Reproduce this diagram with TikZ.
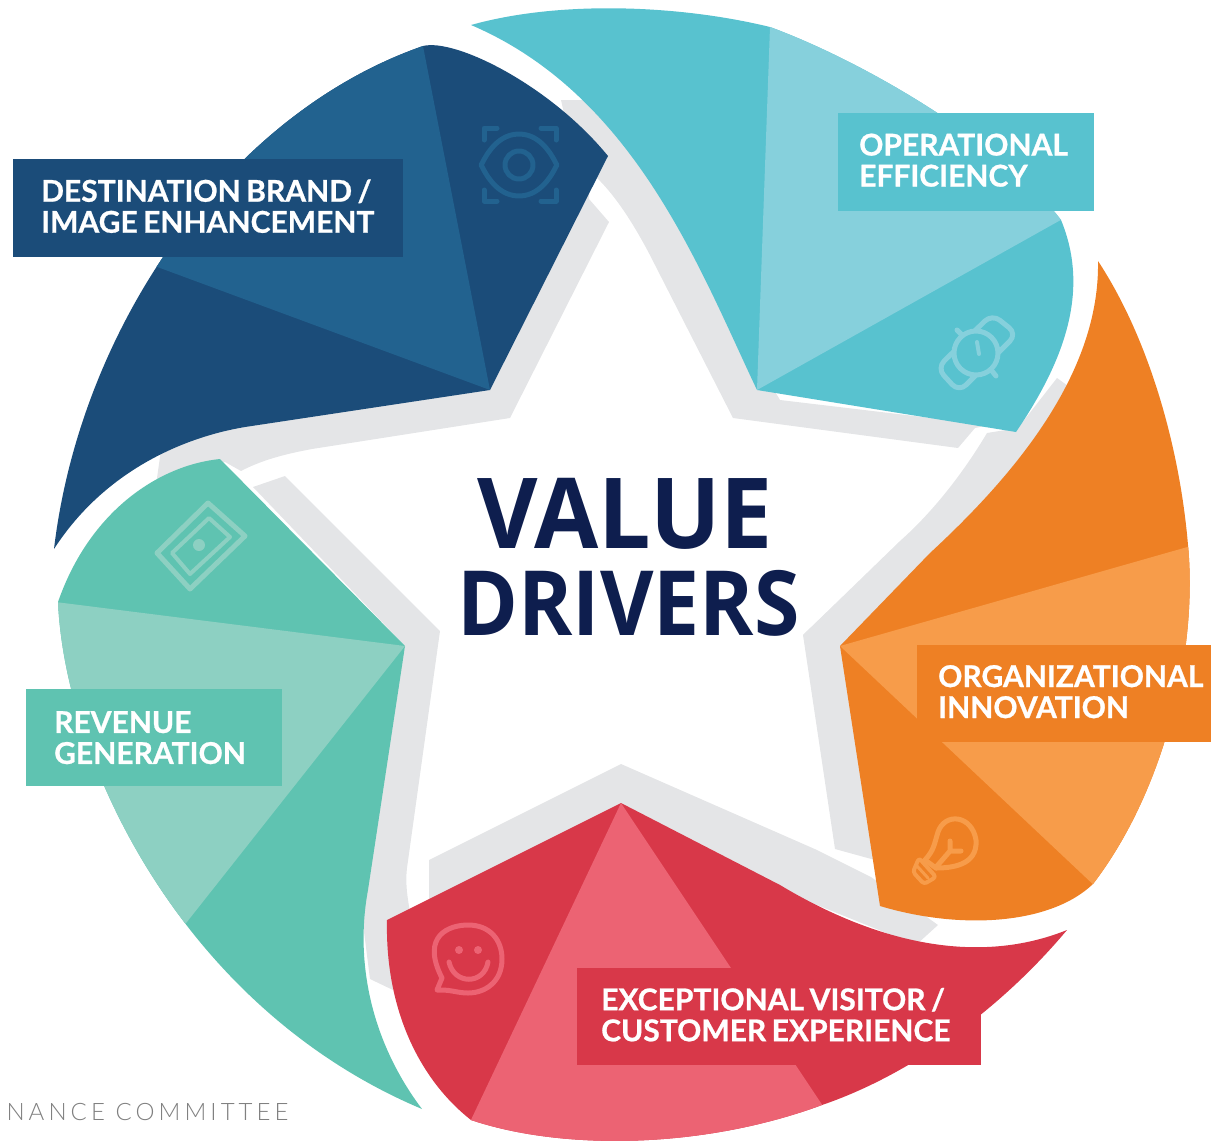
\documentclass[tikz,border=0pt]{standalone}
\usepackage{fontspec}
\setmainfont{Lato}
\newfontfamily\labelfont[FakeBold=0.8,WordSpace=0.75]{Lato Bold}
\newfontfamily\titlefont{Open Sans}
\newfontfamily\footfont[LetterSpace=17]{Lato Light}
\definecolor{bluedark}{HTML}{1B4C79}
\definecolor{bluelight}{HTML}{22628F}
\definecolor{tealdark}{HTML}{58C2CF}
\definecolor{teallight}{HTML}{86D0DC}
\definecolor{orangedark}{HTML}{EE8024}
\definecolor{orangelight}{HTML}{F79C4A}
\definecolor{reddark}{HTML}{D83849}
\definecolor{redlight}{HTML}{EC6373}
\definecolor{greendark}{HTML}{5FC3B1}
\definecolor{greenlight}{HTML}{8DD0C2}
\definecolor{ringgray}{HTML}{E4E5E7}
\definecolor{navy}{HTML}{0E1E4E}
\newcommand{\bluepath}{(54,549) .. controls (80,330) and (225,115) .. (423,46) .. controls (455,38) and (550,85) .. (608,156) -- (490,390) -- (245,427) .. controls (185,437) and (105,470) .. (54,549) -- cycle}
\newcommand{\tealpath}{(471,25) .. controls (560,0) and (680,5) .. (770,27) .. controls (860,60) and (1000,140) .. (1061,220) .. controls (1090,290) and (1065,360) .. (1016,432) -- (757,390) .. controls (700,270) and (635,95) .. (471,25) -- cycle}
\newcommand{\orangepath}{(1098,261) .. controls (1150,340) and (1180,450) .. (1188,545) .. controls (1198,650) and (1165,790) .. (1093,884) .. controls (1050,925) and (960,930) .. (880,906) -- (840,646) -- (930,553) .. controls (1020,470) and (1100,370) .. (1098,261) -- cycle}
\newcommand{\redpath}{(1067,930) .. controls (1000,1010) and (910,1075) .. (822,1105) .. controls (700,1150) and (560,1150) .. (471,1120) .. controls (420,1080) and (385,1010) .. (387,920) -- (621,803) -- (780,885) .. controls (880,945) and (980,965) .. (1067,930) -- cycle}
\newcommand{\greenpath}{(220,459) .. controls (160,465) and (90,510) .. (58,602) .. controls (65,760) and (182,1008) .. (422,1109) .. controls (370,1040) and (355,960) .. (368,890) -- (405,646) -- cycle}
\tikzset{
  ring/.style={fill=ringgray,draw=none},
  labelbox/.style={anchor=north west,inner sep=0pt},
  labeltext/.style={anchor=west,text=white,font=\labelfont\fontsize{30}{31}\selectfont,align=left,inner sep=0pt},
  icon/.style={line width=5pt,line cap=round,line join=round,fill=none}
}
\begin{document}
\begin{tikzpicture}[x=1pt,y=-1pt]
\useasboundingbox (0,0) rectangle (1211,1141);
% gray star ring pieces
\fill[ring] (561,100) -- (620,100) -- (720,300) -- (780,400) -- (990,425) -- (975,428) -- (958,448) -- (733,418) -- (655,265) .. controls (635,225) and (615,195) .. (596,177) -- (570,140) -- cycle;
\fill[ring] (590,160) -- (589,199) -- (609,222) -- (510,418) -- (312,449) .. controls (285,454) and (262,460) .. (241,471) -- (225,462) -- (156,485) -- (161,450) -- (245,420) -- (490,380) -- cycle;
\fill[ring] (253,487) -- (285,476) -- (440,631) -- (407,868) .. controls (405,885) and (408,900) .. (410,912) -- (390,950) -- (393,990) -- (370,979) -- (360,900) -- (405,646) -- cycle;
\fill[ring] (621,764) -- (429,860) -- (429,907) -- (621,810) -- (780,890) -- (916,945) -- (938,925) -- (871,877) -- (817,850) -- cycle;
\fill[ring] (840,600) -- (803,635) -- (835,849) -- (875,860) -- (880,800) -- cycle;
\fill[ring] (803,635) -- (900,541) .. controls (935,510) and (965,470) .. (987,433) -- (1018,428) -- (1057,378) -- (1075,391) -- (1040,450) -- (940,560) -- (860,640) -- cycle;
% segments
\fill[bluedark] \bluepath;
\begin{scope}\clip \bluepath;
\fill[bluelight] (490,390) -- (415,5) -- (60,5) -- (60,231) -- cycle;
\end{scope}
\fill[tealdark] \tealpath;
\begin{scope}\clip \tealpath;
\fill[teallight] (757,390) -- (770,27) -- (771,-10) -- (1100,-10) -- (1100,198) -- cycle;
\end{scope}
\fill[orangedark] \orangepath;
\begin{scope}\clip \orangepath;
\fill[orangelight] (840,646) -- (1240,532) -- (1240,950) -- (1150,938) -- cycle;
\end{scope}
\fill[reddark] \redpath;
\begin{scope}\clip \redpath;
\fill[redlight] (621,803) -- (452,1160) -- (859,1160) -- cycle;
\end{scope}
\fill[greendark] \greenpath;
\begin{scope}\clip \greenpath;
\fill[greenlight] (405,646) -- (0,595) -- (0,1032) -- (100,1032) -- cycle;
\end{scope}
% eye icon
\begin{scope}[icon,draw=bluelight]
\draw (519,134) .. controls (545,134) and (556,165) .. (557,165) .. controls (556,165) and (545,196) .. (519,196) .. controls (493,196) and (482,165) .. (481,165) .. controls (482,165) and (493,134) .. (519,134) -- cycle;
\draw (519,165) circle (14);
\draw (484,140) -- (484,128) -- (497,128);
\draw (541,128) -- (556,128) -- (556,140);
\draw (484,190) -- (484,201) -- (497,201);
\draw (541,201) -- (556,201) -- (556,190);
\end{scope}
% watch icon
\begin{scope}[icon,draw=teallight]
\draw[rounded corners=10pt] (937,368) -- (992,314) -- (1017,334) -- (959,392) -- cycle;
\fill[tealdark] (976,353) circle (22);
\draw (976,353) circle (22);
\draw[line width=4pt] (977,342) -- (979,354);
\draw (961,334) -- (957,330);
\draw (992,371) -- (996,376);
\end{scope}
% bulb icon
\begin{scope}[icon,draw=orangelight]
\draw (936,868) .. controls (950,868) and (978,866) .. (976,840) .. controls (972,815) and (945,812) .. (938,832) .. controls (934,845) and (934,850) .. (925,860);
\draw (925,860) -- (936,868);
\draw[rounded corners=3pt,line width=4pt] (919,858) -- (936,877) -- (924,884) -- (913,872) -- cycle;
\draw[line width=3pt] (917,866) -- (928,878);
\draw (937,866) -- (950,851) (950,851) -- (950,841) (950,851) -- (961,851);
\end{scope}
% smiley icon
\begin{scope}[icon,draw=redlight]
\draw (441,990) -- (437,990) -- (442,978) .. controls (420,935) and (450,925) .. (468,925) .. controls (490,925) and (502,940) .. (502,959) .. controls (502,982) and (485,993) .. (468,993) .. controls (458,993) and (452,990) .. (441,990) -- cycle;
\fill[redlight] (459,950) circle (4) (478,950) circle (4);
\draw (449,962) .. controls (454,985) and (484,985) .. (488,962);
\end{scope}
% money icon
\begin{scope}[icon,draw=greenlight]
\draw (208,503) -- (245,536) -- (190,589) -- (157,553) -- cycle;
\draw[line width=4pt] (209,518) -- (230,537) -- (190,574) -- (172,553) -- cycle;
\fill[greenlight] (199,545) circle (6);
\end{scope}
% labels
\node[labelbox,fill=bluedark,minimum width=390pt,minimum height=98pt] (brand) at (13,159) {};
\node[labeltext] (brandtext) at ([xshift=28pt,yshift=2pt]brand.west) {DESTINATION BRAND /\\IMAGE ENHANCEMENT};
\node[labelbox,fill=tealdark,minimum width=256pt,minimum height=98pt] (ops) at (838,113) {};
\node[labeltext] (opstext) at ([xshift=21pt,yshift=2pt]ops.west) {OPERATIONAL\\EFFICIENCY};
\node[labelbox,fill=orangedark,minimum width=294pt,minimum height=97pt] (org) at (917,645) {};
\node[labeltext] (orgtext) at ([xshift=21pt,yshift=2pt]org.west) {ORGANIZATIONAL\\INNOVATION};
\node[labelbox,fill=reddark,minimum width=404pt,minimum height=97pt] (cust) at (577,968) {};
\node[labeltext] (custtext) at ([xshift=24pt,yshift=2pt]cust.west) {EXCEPTIONAL VISITOR /\\CUSTOMER EXPERIENCE};
\node[labelbox,fill=greendark,minimum width=256pt,minimum height=97pt] (rev) at (26,689) {};
\node[labeltext] (revtext) at ([xshift=28pt]rev.west) {REVENUE\\GENERATION};
% title
\node[text=navy,font=\titlefont\bfseries\fontsize{98}{98}\selectfont] (value) at (625,514) {\scalebox{0.95}[1]{VALUE}};
\node[text=navy,font=\titlefont\bfseries\fontsize{90}{90}\selectfont] (drivers) at (628.5,603) {\scalebox{0.915}[1]{DRIVERS}};
\node[text=black!50,font=\footfont\fontsize{24}{24}\selectfont,anchor=west] (foot) at (3,1112) {NANCE COMMITTEE};
\end{tikzpicture}
\end{document}
